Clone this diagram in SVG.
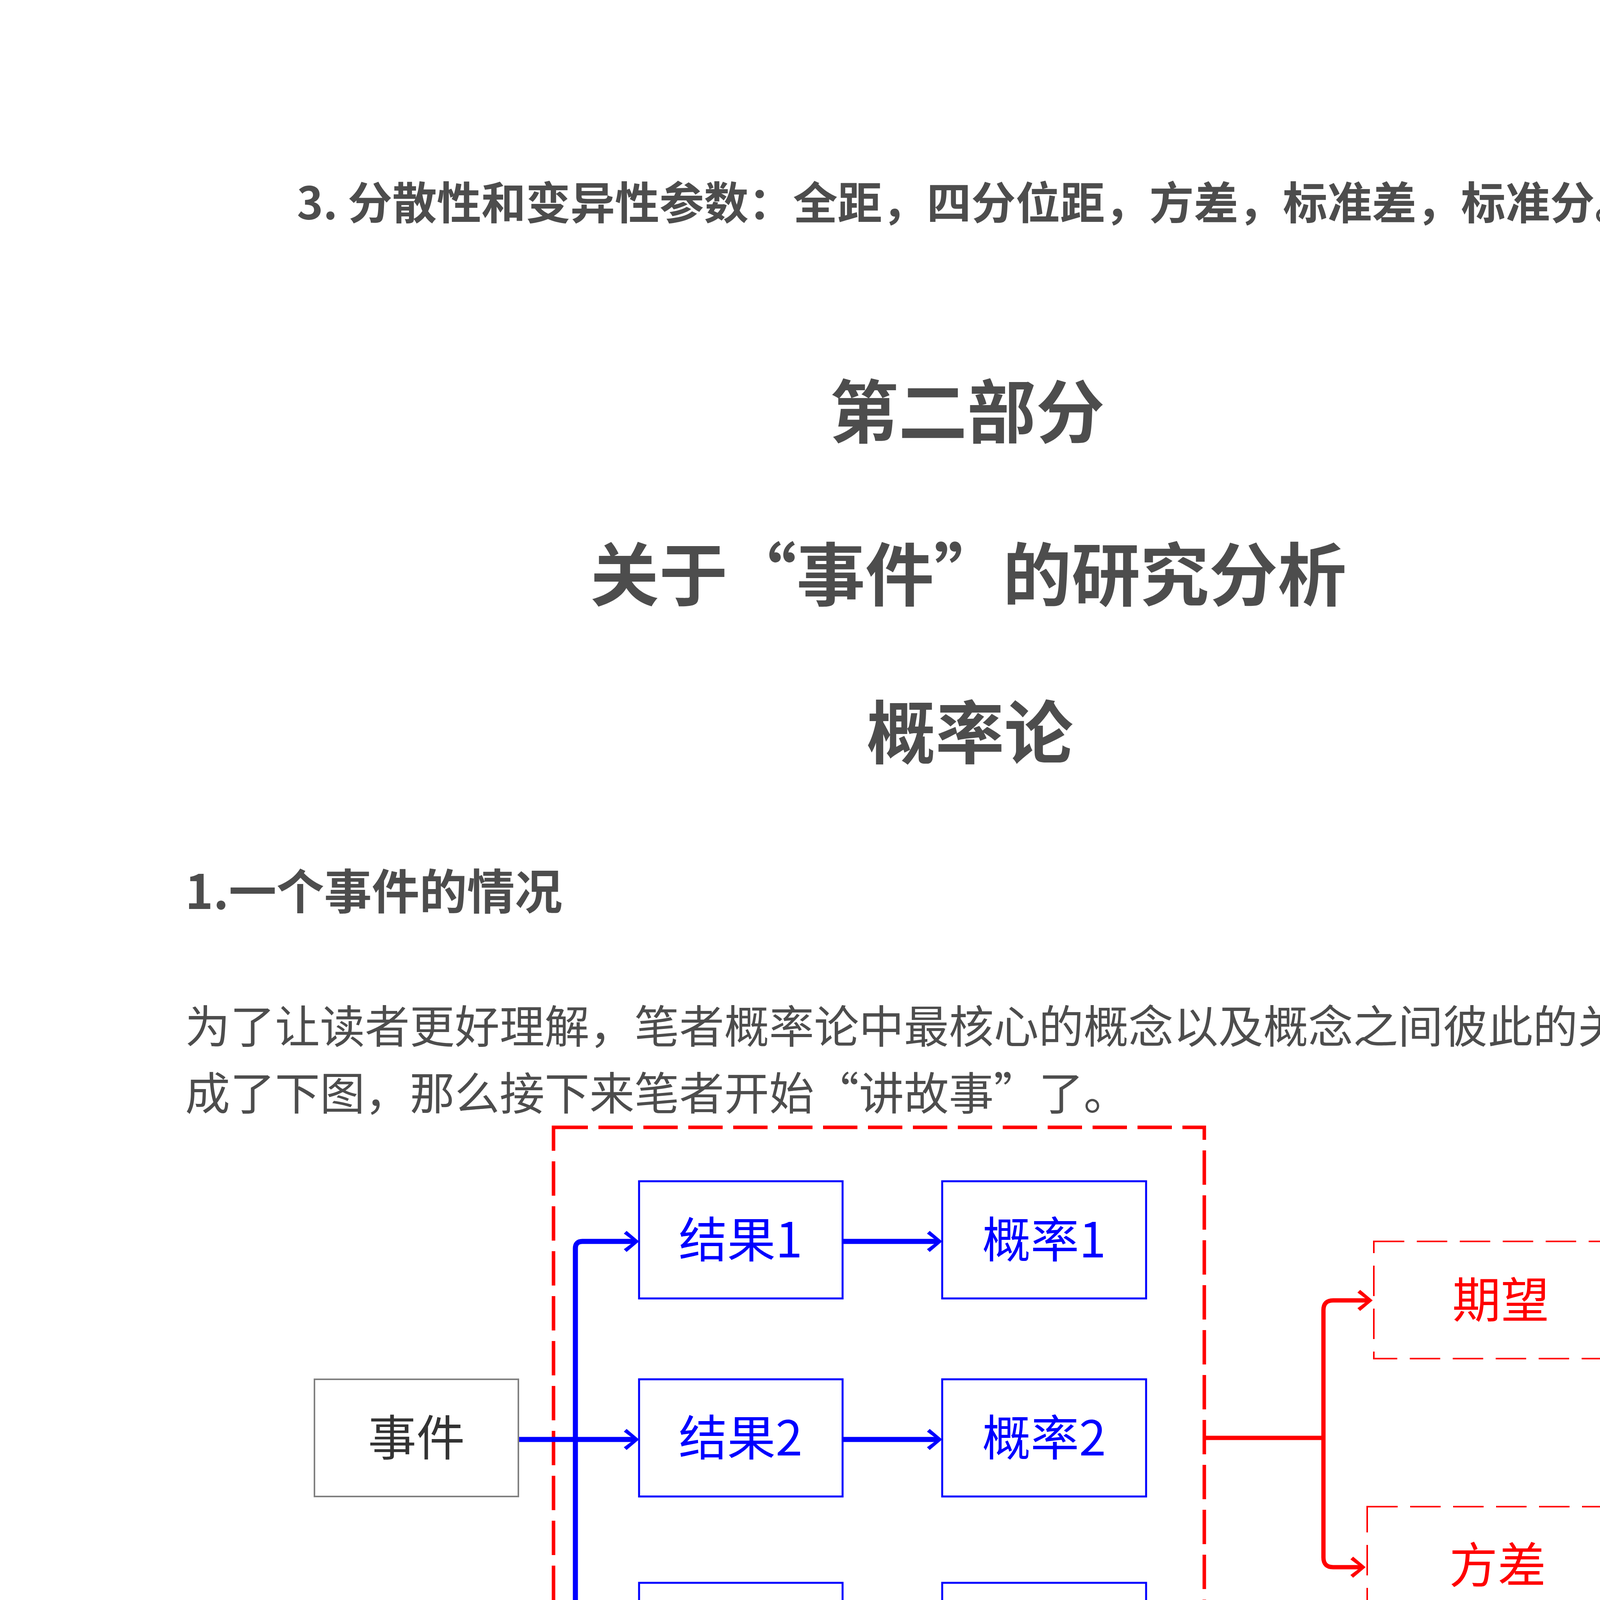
<svg xmlns="http://www.w3.org/2000/svg" width="4967" height="7017" viewBox="0 0 4967 7017">
<style>
text{font-family:"Noto Sans CJK SC","Noto Sans",sans-serif}
.head{font-weight:700;fill:#4d4d4d}
.para{fill:#4d4d4d;font-size:115px}
.lbl{font-size:124px;text-anchor:middle}
.bbox{fill:#ffffff;stroke:#0000ff;stroke-width:5}
.btxt{fill:#0000ff}
.rdash{fill:none;stroke:#ff0000;stroke-width:9;stroke-dasharray:88 27}
.rdash-thin{fill:#ffffff;stroke:#ff0000;stroke-width:4;stroke-dasharray:78 32}
.rtxt{fill:#ff0000}
.ybox{fill:#ffffff;stroke:#ffcc00;stroke-width:4}
.ytxt{fill:#ffcc00}
.gbox{fill:#ffffff;stroke:#66ffcc;stroke-width:4}
.gtxt{fill:#66ffcc}
.cb{fill:none;stroke:#0000ff;stroke-width:13}
.cr{fill:none;stroke:#ff0000;stroke-width:11}
.cy{fill:none;stroke:#ffcc00;stroke-width:12}
.cg{fill:none;stroke:#66ffcc;stroke-width:12}
.edgelbl{font-size:74px;font-weight:700;text-anchor:middle}
</style>
<defs>
<marker id="ah-blue" markerUnits="userSpaceOnUse" viewBox="-40 -32 56 64" refX="0" refY="0" markerWidth="56" markerHeight="64" orient="auto" overflow="visible">
<path d="M10,0 L-22,-27 L-29,-20 L-2,0 L-29,20 L-22,27 Z" fill="#0000ff"/>
</marker>
<marker id="ah-red" markerUnits="userSpaceOnUse" viewBox="-40 -32 56 64" refX="0" refY="0" markerWidth="56" markerHeight="64" orient="auto" overflow="visible">
<path d="M10,0 L-22,-27 L-29,-20 L-2,0 L-29,20 L-22,27 Z" fill="#ff0000"/>
</marker>
<marker id="ah-yellow" markerUnits="userSpaceOnUse" viewBox="-40 -32 56 64" refX="0" refY="0" markerWidth="56" markerHeight="64" orient="auto" overflow="visible">
<path d="M10,0 L-22,-27 L-29,-20 L-2,0 L-29,20 L-22,27 Z" fill="#ffcc00"/>
</marker>
<marker id="ah-teal" markerUnits="userSpaceOnUse" viewBox="-40 -32 56 64" refX="0" refY="0" markerWidth="56" markerHeight="64" orient="auto" overflow="visible">
<path d="M10,0 L-22,-27 L-29,-20 L-2,0 L-29,20 L-22,27 Z" fill="#66ffcc"/>
</marker>
</defs>
<rect x="0" y="0" width="4967" height="7017" fill="#ffffff"/>

<!-- page text -->
<text class="head" x="760" y="561" font-size="114">3. 分散性和变异性参数：全距，四分位距，方差，标准差，标准分。</text>
<text class="head" x="2476" y="1120" font-size="176" text-anchor="middle">第二部分</text>
<text class="head" x="2479" y="1537" font-size="176" text-anchor="middle">关于“事件”的研究分析</text>
<text class="head" x="2483" y="1941" font-size="176" text-anchor="middle">概率论</text>
<text class="head" x="474" y="2327" font-size="122">1.一个事件的情况</text>
<text class="para" x="474" y="2670">为了让读者更好理解，笔者概率论中最核心的概念以及概念之间彼此的关系绘制</text>
<text class="para" x="474" y="2841">成了下图，那么接下来笔者开始“讲故事”了。</text>

<!-- outer red dashed group -->
<g id="group-outcomes">
<rect class="rdash" x="1417" y="2886" width="1666" height="1584"/>
</g>

<!-- connectors -->
<g id="connectors">
<path class="cb" d="M1327 3685 L1626 3685" marker-end="url(#ah-blue)"/>
<path class="cb" d="M1473 3685 L1473 3196 Q1473 3178 1491 3178 L1626 3178" marker-end="url(#ah-blue)"/>
<path class="cb" d="M1473 3685 L1473 4187 Q1473 4205 1491 4205 L1626 4205" marker-end="url(#ah-blue)"/>
<path class="cb" d="M2157 3178 L2402 3178" marker-end="url(#ah-blue)"/>
<path class="cb" d="M2157 3685 L2402 3685" marker-end="url(#ah-blue)"/>
<path class="cb" d="M2157 4205 L2402 4205" marker-end="url(#ah-blue)"/>
<path class="cr" d="M3083 3681 L3388 3681"/>
<path class="cr" d="M3388 3681 L3388 3354 Q3388 3329 3413 3329 L3504 3329" marker-end="url(#ah-red)"/>
<path class="cr" d="M3388 3681 L3388 3987 Q3388 4012 3413 4012 L3486 4012" marker-end="url(#ah-red)"/>
<path class="cr" d="M2255 4474 L2255 4565" marker-end="url(#ah-red)"/>
<path class="cy" d="M2255 4871 L2255 4982 Q2255 5002 2235 5002 L1671 5002 Q1651 5002 1651 5022 L1651 5114" marker-end="url(#ah-yellow)"/>
<path class="cg" d="M2255 4871 L2255 4982 Q2255 5002 2275 5002 L2847 5002 Q2867 5002 2867 5022 L2867 5114" marker-end="url(#ah-teal)"/>
<g id="label-discrete">
<rect x="1731" y="4960" width="443" height="86" fill="#ffffff"/>
<text class="edgelbl ytxt" x="1951" y="5027">离散型数据</text>
</g>
<g id="label-continuous">
<rect x="2341" y="4960" width="442" height="86" fill="#ffffff"/>
<text class="edgelbl gtxt" x="2561" y="5027">连续型数据</text>
</g>
</g>

<!-- nodes -->
<g id="node-event">
<rect x="805" y="3531" width="522" height="300" fill="#ffffff" stroke="#808080" stroke-width="4"/>
<text class="lbl" x="1066" y="3726" fill="#333333">事件</text>
</g>
<g id="node-result1">
<rect class="bbox" x="1636" y="3024" width="521" height="300"/>
<text class="lbl btxt" x="1896" y="3219">结果1</text>
</g>
<g id="node-prob1">
<rect class="bbox" x="2412" y="3024" width="522" height="300"/>
<text class="lbl btxt" x="2673" y="3219">概率1</text>
</g>
<g id="node-result2">
<rect class="bbox" x="1636" y="3531" width="521" height="300"/>
<text class="lbl btxt" x="1896" y="3726">结果2</text>
</g>
<g id="node-prob2">
<rect class="bbox" x="2412" y="3531" width="522" height="300"/>
<text class="lbl btxt" x="2673" y="3726">概率2</text>
</g>
<g id="node-result3">
<rect class="bbox" x="1636" y="4052" width="521" height="301"/>
<text class="lbl btxt" x="1896" y="4247">结果3</text>
</g>
<g id="node-prob3">
<rect class="bbox" x="2412" y="4052" width="522" height="301"/>
<text class="lbl btxt" x="2673" y="4247">概率3</text>
</g>
<g id="node-expectation">
<rect class="rdash-thin" x="3517" y="3178" width="650" height="300"/>
<text class="lbl rtxt" x="3842" y="3373">期望</text>
</g>
<g id="node-variance">
<rect class="rdash-thin" x="3500" y="3857" width="667" height="301"/>
<text class="lbl rtxt" x="3834" y="4052">方差</text>
</g>
<g id="node-distribution">
<rect x="1923" y="4575" width="659" height="296" fill="#ffffff" stroke="#ff0000" stroke-width="9" stroke-dasharray="85 27"/>
<text class="lbl rtxt" x="2252" y="4768">概率分布</text>
</g>
<g id="node-geometric">
<rect class="ybox" x="1314" y="5126" width="667" height="300"/>
<text class="lbl ytxt" x="1647" y="5321">几何分布</text>
</g>
<g id="node-binomial">
<rect class="ybox" x="1314" y="5515" width="667" height="301"/>
<text class="lbl ytxt" x="1647" y="5710">二项分布</text>
</g>
<g id="node-poisson">
<rect class="ybox" x="1314" y="5886" width="667" height="301"/>
<text class="lbl ytxt" x="1647" y="6081">泊松分布</text>
</g>
<g id="node-normal">
<rect class="gbox" x="2532" y="5126" width="667" height="300"/>
<text class="lbl gtxt" x="2865" y="5321">正态分布</text>
</g>

<!-- watermark -->
<path d="M3300 6066 Q3322 6058 3340 6072 Q3382 6103 3352 6140 Q3330 6156 3296 6142" fill="none" stroke="#dcdce6" stroke-width="8"/>
<text x="3411" y="6128" font-size="70" font-weight="700" fill="#dcdce6" font-family="'Liberation Sans','Noto Sans CJK SC',sans-serif">PMCAFF 产品经理社区</text>

<!-- bottom texts -->
<text x="468" y="6303" font-size="104" font-weight="700" fill="#000000">事件</text>
<text x="3659" y="6969" font-size="96" fill="#d9d9d9" font-family="'Liberation Sans','Noto Sans CJK SC',sans-serif">CSDN @又是被bug折磨的一天</text>
</svg>
